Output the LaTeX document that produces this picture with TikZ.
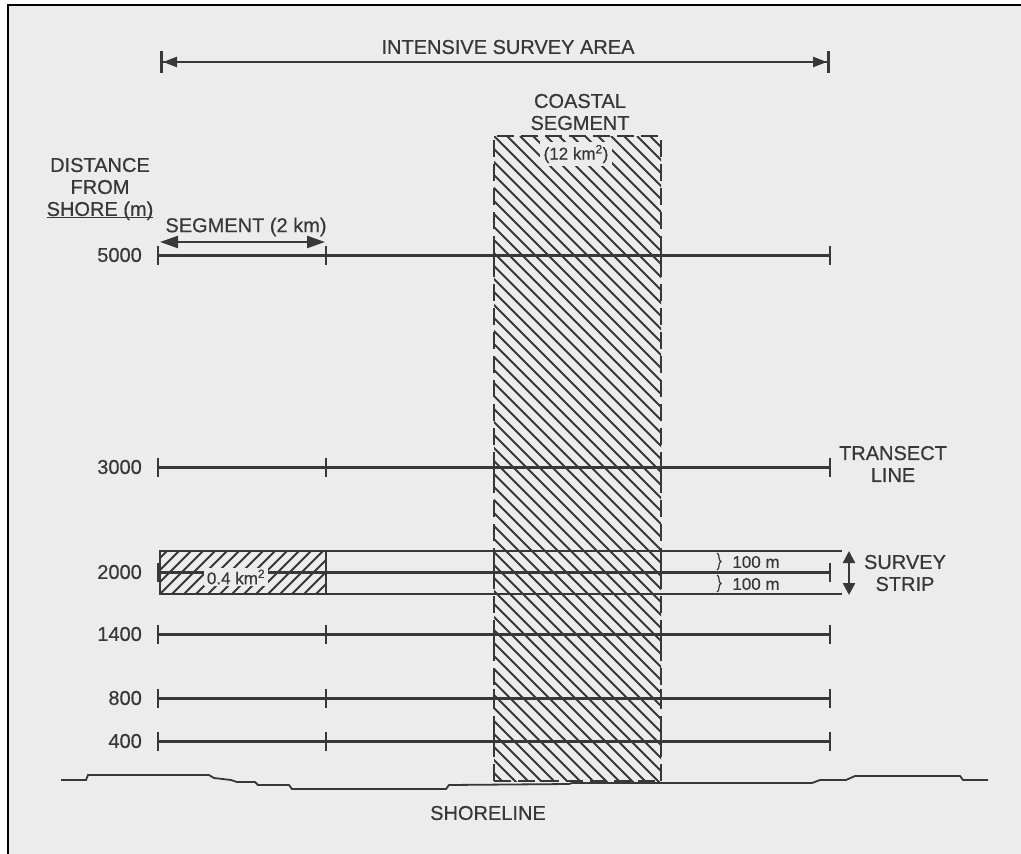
\documentclass[tikz,border=0pt]{standalone}
\usepackage{fontspec}
\setmainfont[FakeBold=0.6]{Liberation Sans}
\newfontfamily\labelfont[FakeBold=0.6]{Liberation Sans}
\usetikzlibrary{arrows.meta,decorations.pathreplacing}
\definecolor{paper}{HTML}{ECECEC}
\definecolor{ink}{HTML}{383838}
\begin{document}
\begin{tikzpicture}[x=1pt,y=-1pt,
  lbl/.style={text=ink, font=\labelfont\fontsize{20}{22}\selectfont, inner sep=0pt, align=center},
  small/.style={text=ink, font=\labelfont\fontsize{17}{20}\selectfont, inner sep=0pt},
  tline/.style={draw=ink, line width=3pt},
  tickmark/.style={draw=ink, line width=2.8pt},
  thinline/.style={draw=ink, line width=1.8pt},
  hatchline/.style={draw=ink, line width=1.9pt},
  areaarrow/.style={draw=ink, line width=2.4pt,
    {Bar[width=22pt,line width=3pt]Triangle[length=14pt,width=10pt]}-{Triangle[length=14pt,width=10pt]Bar[width=22pt,line width=3pt]}},
  dimarrow/.style={draw=ink, line width=2.4pt,
    {Triangle[length=18pt,width=12pt]}-{Triangle[length=18pt,width=12pt]}},
  striparrow/.style={draw=ink, line width=2.4pt,
    {Triangle[length=12pt,width=12pt]}-{Triangle[length=12pt,width=12pt]}},
  bracemark/.style={draw=ink, line width=1.2pt, decorate, decoration={brace, amplitude=4pt}},
  coastedge/.style={draw=ink, line width=2.6pt, dash pattern=on 17pt off 7pt},
]
\useasboundingbox (0,0) rectangle (1021,854);
\fill[paper] (8,5) rectangle (1021,854);
\draw[black, line width=1.8pt] (8,854) -- (8,5) -- (1021,5);

% coastal segment hatching
\begin{scope}
  \clip (494,136) rectangle (661,781);
  \foreach \i in {-52,...,14} {\draw[hatchline] ({494+13*\i},136) -- ++(660,660);}
\end{scope}

% survey strip hatching
\begin{scope}
  \clip (160,551) rectangle (326,594);
  \foreach \i in {-5,...,15} {\draw[hatchline] ({160+12*\i},594) -- ++(50,-50);}
\end{scope}
\draw[thinline] (160,551) rectangle (326,594);
\coordinate (stripTL) at (326,551);
\coordinate (stripTR) at (842,551);
\coordinate (stripBL) at (326,594);
\coordinate (stripBR) at (842,594);
\draw[thinline] (stripTL) -- (stripTR);
\draw[thinline] (stripBL) -- (stripBR);

% transect lines
\foreach \y/\d in {255/5000, 467/3000, 572/2000, 634/1400, 698/800, 741/400} {
  \coordinate (L\d) at (158,\y);
  \coordinate (R\d) at (830,\y);
  \draw[tline] (L\d) -- (R\d);
  \foreach \x in {158,326,494,661,830} {\draw[tickmark] (\x,\y) ++(0,-9.5) -- ++(0,19);}
  \node[lbl, anchor=east] (n\d) at (142,\y) {\d};
}

% coastal segment label and border
\node[small, fill=paper, inner xsep=4pt, inner ysep=3pt] (area12) at (576,154) {(12 km\textsuperscript{2})};
\draw[coastedge] (494,781) -- (494,136) -- (661,136) -- (661,781);
\draw[coastedge] (494,781) -- (661,781);
\node[lbl] (coastal) at (580,112) {COASTAL\\SEGMENT};

% strip label
\node[small, fill=paper, inner xsep=3pt, inner ysep=2pt] (area04) at (236,577) {0.4 km\textsuperscript{2}};

% top arrow
\coordinate (areaL) at (160,62);
\coordinate (areaR) at (830,62);
\draw[areaarrow] (areaL) -- (areaR);
\node[lbl] (title) at (508,47) {INTENSIVE SURVEY AREA};

% distance label
\node[lbl] (dist) at (100,189) {DISTANCE\\FROM\\{\setbox0\hbox{SHORE (m)}\rlap{\rule[-2.5pt]{\wd0}{1.4pt}}\box0}};

% segment arrow
\coordinate (segL) at (160,242);
\coordinate (segR) at (325,242);
\draw[dimarrow] (segL) -- (segR);
\node[lbl] (seg) at (246,227) {SEGMENT (2 km)};

% transect label
\node[lbl] (trans) at (893,464) {TRANSECT\\LINE};

% braces and 100 m
\coordinate (b1t) at (717,553);
\coordinate (b1b) at (717,570);
\coordinate (b2t) at (717,575);
\coordinate (b2b) at (717,592);
\draw[bracemark] (b1t) -- (b1b);
\draw[bracemark] (b2t) -- (b2b);
\node[small] (hm1) at (756,562) {100 m};
\node[small] (hm2) at (756,584) {100 m};

% survey strip arrow
\coordinate (ssT) at (849,551);
\coordinate (ssB) at (849,595);
\draw[striparrow] (ssT) -- (ssB);
\node[lbl] (strip) at (905,573) {SURVEY\\STRIP};

% shoreline
\draw[thinline] (61,780) -- (86,780) -- (88,775) -- (209,775) -- (214,778) -- (231,780) -- (237,782) -- (255,782) -- (258,785) -- (289,785) -- (292,789) -- (446,789) -- (449,785) -- (569,784) -- (572,783) -- (812,783) -- (820,780) -- (846,780) -- (855,776) -- (960,776) -- (963,780) -- (988,780);
\node[lbl] (shore) at (488,813) {SHORELINE};
\end{tikzpicture}
\end{document}
